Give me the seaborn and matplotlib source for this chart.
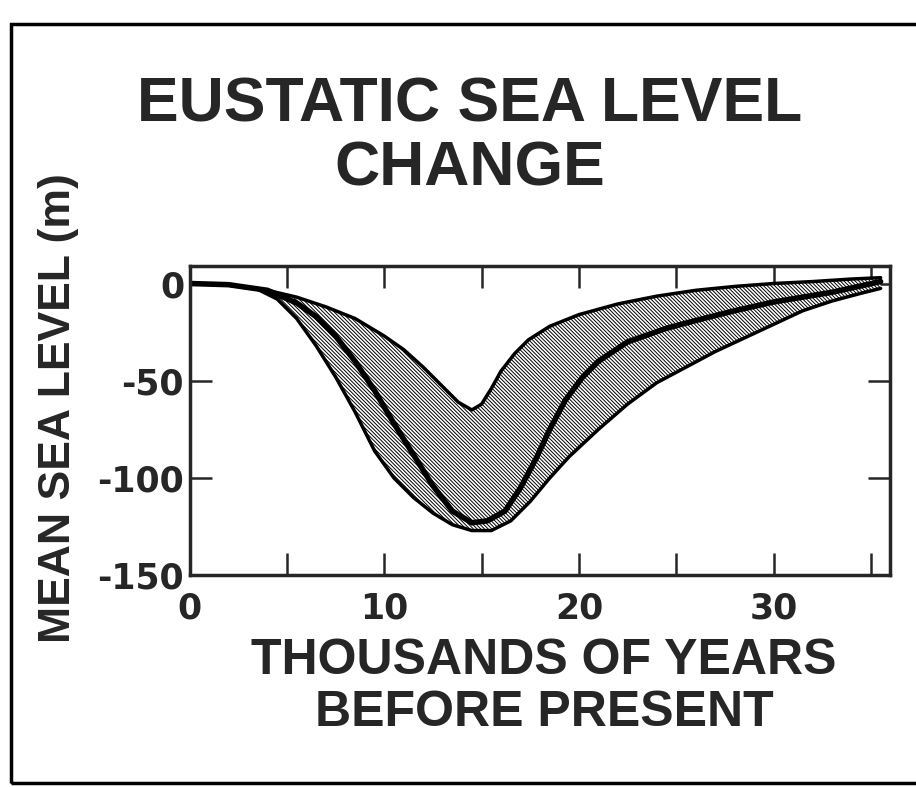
import numpy as np
import pandas as pd
import matplotlib
matplotlib.use('Agg')
import matplotlib.pyplot as plt
from matplotlib.patches import Rectangle
import seaborn as sns

# thousands of years before present / metres
upper_x = [0, 2, 4, 5.5, 7, 8.5, 10, 11, 12, 13, 13.8, 14.5, 15, 15.5, 16, 16.7, 17.4, 18.5, 20, 22, 24, 26, 28, 30, 32, 34, 35.5]
upper_y = [0, -0.5, -3.5, -7, -12, -18, -27, -34, -43, -53, -61, -65, -62, -54, -45, -36, -29, -22, -16, -10.5, -6.5, -3.5, -1.5, 0, 1, 2.3, 3]

lower_x = [0, 2, 3.5, 4.5, 5.5, 6.5, 7.5, 8.5, 9.5, 10.5, 11.5, 12.5, 13.5, 14.5, 15.5, 16.5, 17.5, 18.5, 19.5, 21, 22.5, 24, 25.5, 27, 28.5, 30, 31.5, 33, 34.5, 35.5]
lower_y = [0, -0.8, -3, -8, -18, -32, -48, -66, -86, -100, -110, -118, -124, -127, -127, -122, -112, -100, -89, -75, -62, -51, -43, -35, -28, -21, -14, -9, -5, -2.5]

mid_x = [0, 2, 4, 5.5, 6.5, 7.5, 8.5, 9.5, 10.5, 11.5, 12.5, 13.5, 14.5, 15.3, 16.2, 17.0, 17.8, 18.5, 19.3, 20.2, 21, 22.5, 24.5, 26.2, 28, 30, 33, 35.5]
mid_y = [0, -0.6, -3.5, -10, -17, -27, -40, -55, -72, -88, -104, -117, -123, -122, -117, -105, -90, -75, -60, -48, -40, -30, -23, -18.5, -14, -9.5, -4.5, 1]

x_ticks = [0, 10, 20, 30]
x_minor = [5, 15, 25, 35]
y_ticks = [0, -50, -100, -150]

sns.set_style('ticks')
plt.rcParams['font.family'] = ['Liberation Sans', 'DejaVu Sans']
plt.rcParams['font.weight'] = 'bold'
plt.rcParams['hatch.linewidth'] = 0.7

fig = plt.figure(figsize=(9.16, 7.87), dpi=100)
ax = fig.add_axes([0.207, 0.269, 0.765, 0.393])

# hatched band between the envelopes
band_x = np.concatenate([upper_x, lower_x[::-1]])
band_y = np.concatenate([upper_y, lower_y[::-1]])
ax.fill(band_x, band_y, facecolor='white', edgecolor='black', hatch='\\' * 9, linewidth=0)

up = pd.DataFrame({'x': upper_x, 'y': upper_y})
lo = pd.DataFrame({'x': lower_x, 'y': lower_y})
mid = pd.DataFrame({'x': mid_x, 'y': mid_y})
sns.lineplot(data=up, x='x', y='y', ax=ax, color='black', linewidth=2.5, sort=False)
sns.lineplot(data=lo, x='x', y='y', ax=ax, color='black', linewidth=2.5, sort=False)
sns.lineplot(data=mid, x='x', y='y', ax=ax, color='black', linewidth=4, sort=False)

ax.set_xlim(0, 36)
ax.set_ylim(-150, 9)
ax.set_xticks(x_ticks)
ax.set_xticks(x_minor, minor=True)
ax.set_yticks(y_ticks)
tick_font = {'family': 'DejaVu Sans', 'weight': 'bold', 'size': 25}
ax.set_xticklabels([str(v) for v in x_ticks], fontdict=tick_font)
ax.set_yticklabels([str(v) for v in y_ticks], fontdict=tick_font)
ax.tick_params(which='both', direction='in', length=16, width=1.8, top=True, right=True)
ax.tick_params(axis='x', pad=12)
ax.tick_params(axis='y', pad=4)
ax.set_xlabel('')
ax.set_ylabel('')
for s in ax.spines.values():
    s.set_linewidth(2.5)
    s.set_visible(True)

fig.text(0.513, 0.826, 'EUSTATIC SEA LEVEL\nCHANGE', ha='center', va='center',
         fontsize=45, fontweight='bold', linespacing=1.12)
fig.text(0.594, 0.127, 'THOUSANDS OF YEARS\nBEFORE PRESENT', ha='center', va='center',
         fontsize=36, fontweight='bold', linespacing=1.15)
fig.text(0.064, 0.482, 'MEAN SEA LEVEL (m)', ha='center', va='center', rotation=90,
         fontsize=32, fontweight='bold')

# outer frame of the original figure
fig.add_artist(Rectangle((0.012, 0.005), 1.2, 0.965, transform=fig.transFigure,
                         fill=False, edgecolor='black', linewidth=2.5))

fig.savefig('out.png', dpi=100)
